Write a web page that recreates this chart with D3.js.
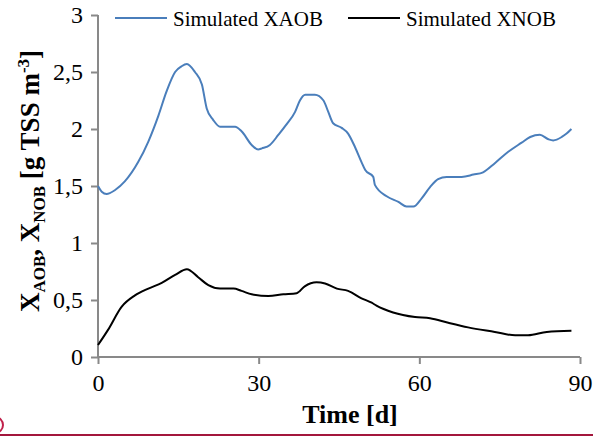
<!DOCTYPE html>
<html>
<head>
<meta charset="utf-8">
<script src="https://cdn.jsdelivr.net/npm/d3@7"></script>
<style>
  body { margin: 0; background: #fff; }
  svg { display: block; }
</style>
</head>
<body>
<div id="chart"></div>
<script>
// Simulated XAOB (day, g TSS m-3)
const xaobDays = [0, 0.7, 1.6, 3.2, 5.0, 7.5, 9.4, 11.3, 12.8, 14.4, 15.6, 16.6, 18.1, 19.4, 20.3, 21.5, 22.8, 25.6, 26.8, 28.7, 29.9, 30.6, 32.1, 33.7, 35.2, 36.8, 37.7, 38.7, 40.5, 42.1, 43.0, 43.9, 45.5, 46.7, 48.0, 49.2, 49.9, 51.4, 51.7, 53.9, 56.1, 57.6, 58.9, 60.4, 62.0, 63.5, 65.1, 67.9, 70.1, 71.9, 74.1, 76.6, 79.1, 80.7, 82.5, 84.1, 85.0, 86.6, 87.5, 88.4];
const xaobVals = [1.50, 1.45, 1.43, 1.465, 1.54, 1.71, 1.89, 2.12, 2.33, 2.50, 2.55, 2.57, 2.50, 2.39, 2.18, 2.08, 2.02, 2.02, 1.98, 1.86, 1.82, 1.83, 1.86, 1.95, 2.04, 2.15, 2.25, 2.30, 2.30, 2.25, 2.15, 2.05, 2.01, 1.96, 1.84, 1.71, 1.64, 1.58, 1.51, 1.41, 1.36, 1.32, 1.32, 1.39, 1.49, 1.56, 1.58, 1.58, 1.60, 1.62, 1.70, 1.80, 1.88, 1.93, 1.95, 1.91, 1.90, 1.93, 1.96, 2.00];

// Simulated XNOB
const xnobDays = [0, 1.9, 4.4, 6.9, 9.4, 11.9, 14.4, 16.6, 18.7, 20.6, 22.8, 25.3, 26.8, 28.7, 31.8, 34.6, 37.1, 38.6, 40.8, 42.4, 44.6, 46.7, 49.2, 51.1, 52.0, 55.1, 59.2, 62.0, 65.4, 69.1, 74.1, 77.9, 80.3, 83.8, 88.4];
const xnobVals = [0.105, 0.24, 0.44, 0.54, 0.60, 0.65, 0.72, 0.77, 0.70, 0.63, 0.60, 0.60, 0.58, 0.55, 0.535, 0.55, 0.56, 0.62, 0.655, 0.645, 0.60, 0.58, 0.515, 0.476, 0.45, 0.39, 0.35, 0.34, 0.30, 0.26, 0.22, 0.19, 0.19, 0.22, 0.23];

const xTicks = [0, 30, 60, 90];
const yTicks = [0, 0.5, 1, 1.5, 2, 2.5, 3];
const seriesNames = ["Simulated XAOB", "Simulated XNOB"];
const seriesColors = ["#4A7EBB", "#000000"];

const W = 593, H = 436;
const margin = { left: 98, right: 13, top: 15, bottom: 79 };
const FONT = "'Liberation Serif', 'Times New Roman', serif";
const AXIS = "#898989";

const svg = d3.select("#chart").append("svg")
    .attr("width", W)
    .attr("height", H);

const x = d3.scaleLinear().domain([0, 90]).range([margin.left, W - margin.right]);
const y = d3.scaleLinear().domain([0, 3]).range([H - margin.bottom, margin.top]);

// axes
const xAxis = svg.append("g")
    .attr("transform", `translate(0,${y(0)})`)
    .call(d3.axisBottom(x).tickValues(xTicks).tickSize(7).tickPadding(10).tickFormat(d3.format("d")));
const yAxis = svg.append("g")
    .attr("transform", `translate(${x(0)},0)`)
    .call(d3.axisLeft(y).tickValues(yTicks).tickSize(7).tickPadding(8)
        .tickFormat(d => String(d).replace(".", ",")));

[xAxis, yAxis].forEach(a => {
    a.select(".domain").attr("stroke", AXIS).attr("stroke-width", 2);
    a.selectAll(".tick line").attr("stroke", AXIS).attr("stroke-width", 2);
    a.selectAll("text").attr("font-family", FONT).attr("font-size", "24px").attr("fill", "#000");
});
xAxis.select(".domain").attr("d", `M${x(0)},0H${x(90)}`);
yAxis.select(".domain").attr("d", `M0,${y(3)}V${y(0)}`);

// lines
const line = d3.line()
    .x(d => x(d[0]))
    .y(d => y(d[1]))
    .curve(d3.curveMonotoneX);

const series = [
    d3.zip(xaobDays, xaobVals),
    d3.zip(xnobDays, xnobVals)
];
series.forEach((s, i) => {
    svg.append("path")
        .datum(s)
        .attr("fill", "none")
        .attr("stroke", seriesColors[i])
        .attr("stroke-width", 2)
        .attr("stroke-linejoin", "round")
        .attr("d", line);
});

// legend
const legendX = [115, 348];
seriesNames.forEach((name, i) => {
    svg.append("line")
        .attr("x1", legendX[i]).attr("x2", legendX[i] + 52)
        .attr("y1", 18).attr("y2", 18)
        .attr("stroke", seriesColors[i])
        .attr("stroke-width", 2);
    svg.append("text")
        .attr("x", legendX[i] + 58)
        .attr("y", 26)
        .attr("font-family", FONT)
        .attr("font-size", "21px")
        .text(name);
});

// x title
svg.append("text")
    .attr("x", 350)
    .attr("y", 423)
    .attr("text-anchor", "middle")
    .attr("font-family", FONT)
    .attr("font-size", "26px")
    .attr("font-weight", "bold")
    .text("Time [d]");

// y title
const yt = svg.append("text")
    .attr("transform", "translate(39,181) rotate(-90)")
    .attr("text-anchor", "middle")
    .attr("font-family", FONT)
    .attr("font-size", "27px")
    .attr("font-weight", "bold");
yt.append("tspan").text("X");
yt.append("tspan").attr("font-size", "17px").attr("dy", 6).text("AOB");
yt.append("tspan").attr("dy", -6).text(", X");
yt.append("tspan").attr("font-size", "17px").attr("dy", 6).text("NOB");
yt.append("tspan").attr("dy", -6).text(" [g TSS m");
yt.append("tspan").attr("font-size", "17px").attr("dy", -10).text("-3");
yt.append("tspan").attr("dy", 10).text("]");

// page decoration at bottom
svg.append("line")
    .attr("x1", 0).attr("x2", W)
    .attr("y1", 435).attr("y2", 435)
    .attr("stroke", "#A3163C")
    .attr("stroke-width", 2);
svg.append("circle")
    .attr("cx", -5).attr("cy", 425)
    .attr("r", 8)
    .attr("fill", "none")
    .attr("stroke", "#C0204A")
    .attr("stroke-width", 2);
</script>
</body>
</html>
